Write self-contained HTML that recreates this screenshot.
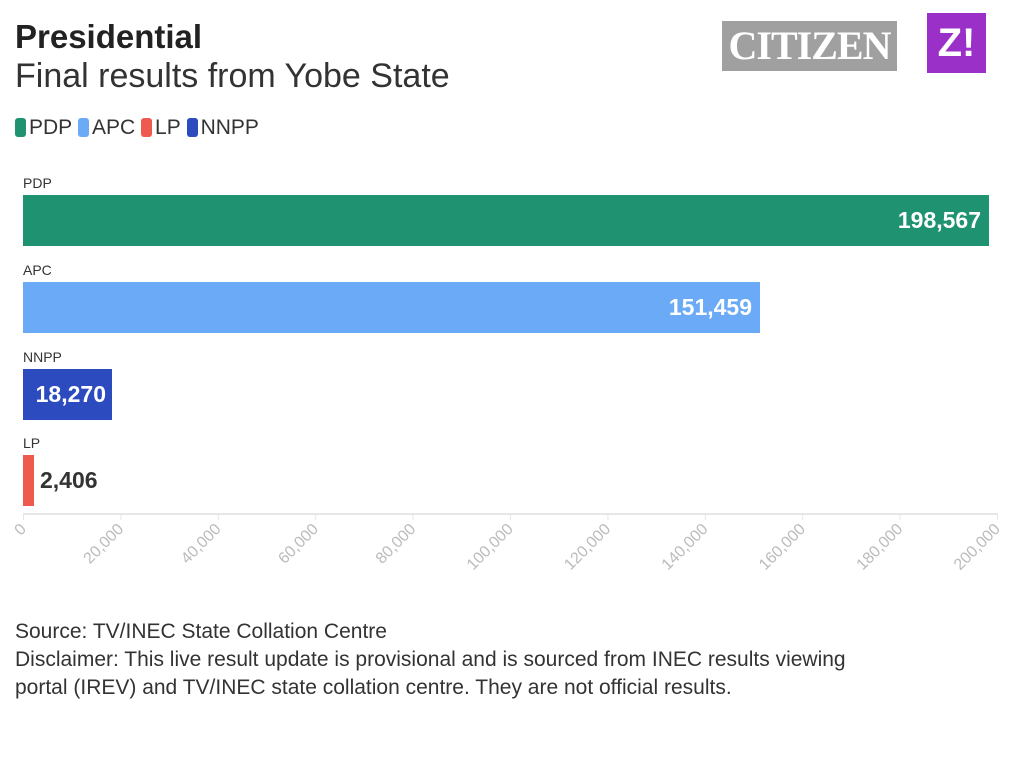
<!DOCTYPE html>
<html><head><meta charset="utf-8"><style>
body{margin:0;width:1024px;height:770px;background:#fff;font-family:"Liberation Sans",sans-serif;position:relative;overflow:hidden}
.a{position:absolute}
.lbl{font-size:14px;color:#333}
.bar{position:absolute;left:23px;height:51px}
.val{position:absolute;font-weight:bold;font-size:23px;color:#fff;top:12px}
.sw{display:inline-block;width:11px;height:19px;border-radius:3px;vertical-align:-3px;margin-right:3px}
</style></head><body>
<div class="a" style="left:15px;top:18px;font-size:33px;font-weight:bold;color:#222">Presidential</div>
<div class="a" style="left:15px;top:57px;font-size:34px;color:#333">Final results from Yobe State</div>
<div class="a" style="left:722px;top:21px;width:175px;height:50px;background:#a0a0a0;color:#fff;font-family:'Liberation Serif',serif;font-weight:bold;font-size:40px;line-height:50px;text-align:center;letter-spacing:-1px">CITIZEN</div>
<div class="a" style="left:927px;top:13px;width:59px;height:60px;background:#9b30c8;color:#fff;font-weight:bold;font-size:40px;line-height:60px;text-align:center">Z!</div>
<div class="a" style="left:15px;top:116px;font-size:21px;color:#333">
<span class="sw" style="background:#1f9272"></span>PDP&nbsp;<span class="sw" style="background:#6aaaf6"></span>APC&nbsp;<span class="sw" style="background:#ee5a4e"></span>LP&nbsp;<span class="sw" style="background:#2b4bbf"></span>NNPP</div>
<div class="a lbl" style="left:23px;top:175px">PDP</div>
<div class="bar" style="top:195px;width:966px;background:#1f9272"><span class="val" style="right:8px">198,567</span></div>
<div class="a lbl" style="left:23px;top:262px">APC</div>
<div class="bar" style="top:282px;width:737px;background:#6aaaf6"><span class="val" style="right:8px">151,459</span></div>
<div class="a lbl" style="left:23px;top:349px">NNPP</div>
<div class="bar" style="top:369px;width:89px;background:#2b4bbf"><span class="val" style="right:6px">18,270</span></div>
<div class="a lbl" style="left:23px;top:435px">LP</div>
<div class="bar" style="top:455px;width:11px;background:#ee5a4e"><span class="val" style="left:17px;color:#333">2,406</span></div>
<svg class="a" style="left:0;top:0" width="1024" height="770" id="ax"></svg>
<div class="a" style="left:15px;top:618px;font-size:21px;color:#333;line-height:28px">Source: TV/INEC State Collation Centre<br>Disclaimer: This live result update is provisional and is sourced from INEC results viewing<br>portal (IREV) and TV/INEC state collation centre. They are not official results.</div>
<script>
var h='<rect x="23" y="513" width="975" height="2" fill="#e6e6e6"/>';var labs=['0','20,000','40,000','60,000','80,000','100,000','120,000','140,000','160,000','180,000','200,000'];
for(var i=0;i<=10;i++){var x=23+i*97.4;h+='<rect x="'+x+'" y="514" width="1" height="6" fill="#e6e6e6"/>';
h+='<text x="'+(x+4)+'" y="530" text-anchor="end" font-size="16" fill="#bbb" font-family="Liberation Sans, sans-serif" transform="rotate(-45 '+(x+4)+' 530)">'+labs[i]+'</text>';}
document.getElementById('ax').innerHTML=h;
</script>
</body></html>
